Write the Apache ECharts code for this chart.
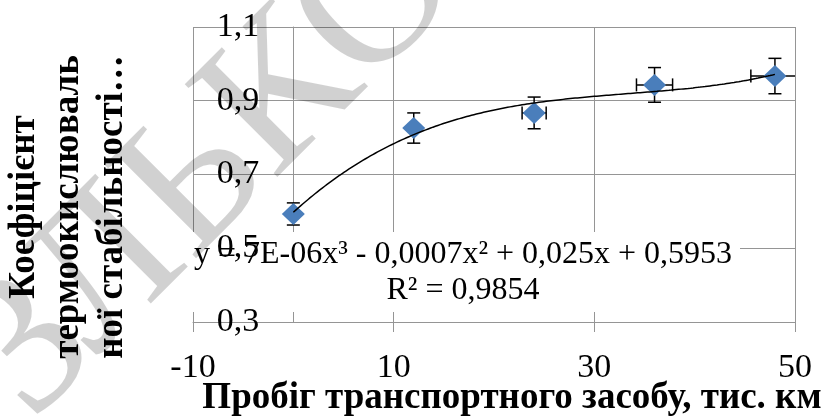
<!DOCTYPE html>
<html>
<head>
<meta charset="utf-8">
<script src="https://cdn.jsdelivr.net/npm/echarts@6/dist/echarts.min.js"></script>
<style>
  html, body { margin: 0; padding: 0; background: #ffffff; }
  #chart { width: 827px; height: 417px; }
</style>
</head>
<body>
<div id="chart"></div>
<script>
// Mileage of the vehicle (thousand km) and the thermo-oxidative stability coefficient
const mileage = [0, 12, 24, 36, 48];
const stability = [0.593, 0.826, 0.867, 0.943, 0.967];
// Error bar half-widths for each measurement
const stabilityErr = [0.030, 0.041, 0.043, 0.047, 0.048];
const mileageErr = [0, 0.3, 1.2, 1.8, 2.4];
// Axis ticks
const xTicks = [-10, 10, 30, 50];
const yTicks = [0.3, 0.5, 0.7, 0.9, 1.1];

const equationText = 'y = 7E-06x³ - 0,0007x² + 0,025x + 0,5953\nR² = 0,9854';
const xTitle = 'Пробіг транспортного засобу, тис. км';
const yTitle = 'Коефіцієнт\nтермоокислюваль\nної стабільності…';

const SERIF = '"Liberation Serif", "Times New Roman", serif';
const GRID_GRAY = '#959595';

const GRID = { left: 193, right: 32, top: 27, bottom: 95 };
const CHART_W = 827;

// Least-squares cubic trendline fitted to the measurements
function fitPolynomial(xs, ys, degree) {
  const n = degree + 1;
  const A = [];
  for (let r = 0; r < n; r++) {
    const row = [];
    for (let c = 0; c < n; c++) {
      let s = 0;
      for (let i = 0; i < xs.length; i++) s += Math.pow(xs[i], r + c);
      row.push(s);
    }
    let b = 0;
    for (let i = 0; i < xs.length; i++) b += ys[i] * Math.pow(xs[i], r);
    row.push(b);
    A.push(row);
  }
  for (let col = 0; col < n; col++) {
    let piv = col;
    for (let r = col + 1; r < n; r++) if (Math.abs(A[r][col]) > Math.abs(A[piv][col])) piv = r;
    [A[col], A[piv]] = [A[piv], A[col]];
    for (let r = 0; r < n; r++) {
      if (r === col) continue;
      const f = A[r][col] / A[col][col];
      for (let c = col; c <= n; c++) A[r][c] -= f * A[col][c];
    }
  }
  return A.map((row, i) => row[n] / row[i]);
}
const coef = fitPolynomial(mileage, stability, 3);
const poly = x => coef.reduce((s, c, i) => s + c * Math.pow(x, i), 0);
const trend = [];
const xFirst = mileage[0], xLast = mileage[mileage.length - 1];
for (let k = 0; k <= 200; k++) {
  const x = xFirst + (xLast - xFirst) * k / 200;
  trend.push([x, poly(x)]);
}

const points = mileage.map((x, i) => [x, stability[i]]);
const errData = mileage.map((x, i) => [x, stability[i], mileageErr[i], stabilityErr[i]]);

// The value labels sit beside the vertical axis that crosses at x = 0
const xMin = xTicks[0], xMax = xTicks[xTicks.length - 1];
const plotW = CHART_W - GRID.left - GRID.right;
const zeroOffset = -(0 - xMin) / (xMax - xMin) * plotW;

const chart = echarts.init(document.getElementById('chart'), null, { renderer: 'canvas' });

const fmtComma = v => String(Math.round(v * 10) / 10).replace('.', ',');

chart.setOption({
  animation: false,
  backgroundColor: '#ffffff',
  grid: Object.assign({ containLabel: false, outerBoundsMode: 'none' }, GRID),
  xAxis: {
    type: 'value',
    min: xMin, max: xMax, interval: xTicks[1] - xTicks[0],
    axisLine: { show: true, onZero: false, lineStyle: { color: GRID_GRAY, width: 1 } },
    axisTick: { show: true, inside: false, length: 10, lineStyle: { color: GRID_GRAY, width: 1 } },
    splitLine: { show: true, lineStyle: { color: GRID_GRAY, width: 1 } },
    axisLabel: { show: true, margin: 29, color: '#000', fontFamily: SERIF, fontSize: 34, formatter: v => String(v) },
    z: 0
  },
  yAxis: [
    {
      // vertical axis line crossing at x = 0, together with the grid
      type: 'value',
      min: yTicks[0], max: yTicks[yTicks.length - 1], interval: 0.2,
      axisLine: { show: true, onZero: true, onZeroAxisIndex: 0, lineStyle: { color: GRID_GRAY, width: 1 } },
      axisTick: { show: false },
      splitLine: { show: true, lineStyle: { color: GRID_GRAY, width: 1 } },
      axisLabel: { show: false },
      z: 0
    },
    {
      // value labels beside the x = 0 axis, drawn above the equation box
      type: 'value', position: 'left', offset: zeroOffset,
      min: yTicks[0], max: yTicks[yTicks.length - 1], interval: 0.2,
      axisLine: { show: false, onZero: false },
      axisTick: { show: false },
      splitLine: { show: false },
      axisLabel: { show: true, margin: 34, color: '#000', fontFamily: SERIF, fontSize: 34, formatter: fmtComma },
      z: 2
    }
  ],
  series: [
    {
      type: 'custom',
      clip: true,
      z: 2,
      data: errData,
      renderItem: function (params, api) {
        const x = api.value(0), y = api.value(1), ex = api.value(2), ey = api.value(3);
        const cap = 6.5;
        const st = { stroke: '#000', lineWidth: 1.5 };
        const kids = [];
        if (ey > 0) {
          const t = api.coord([x, y + ey]), b = api.coord([x, y - ey]);
          kids.push({ type: 'line', shape: { x1: t[0], y1: t[1], x2: b[0], y2: b[1] }, style: st });
          kids.push({ type: 'line', shape: { x1: t[0] - cap, y1: t[1], x2: t[0] + cap, y2: t[1] }, style: st });
          kids.push({ type: 'line', shape: { x1: b[0] - cap, y1: b[1], x2: b[0] + cap, y2: b[1] }, style: st });
        }
        if (ex > 0) {
          const l = api.coord([x - ex, y]), r = api.coord([x + ex, y]);
          kids.push({ type: 'line', shape: { x1: l[0], y1: l[1], x2: r[0], y2: r[1] }, style: st });
          kids.push({ type: 'line', shape: { x1: l[0], y1: l[1] - cap, x2: l[0], y2: l[1] + cap }, style: st });
          kids.push({ type: 'line', shape: { x1: r[0], y1: r[1] - cap, x2: r[0], y2: r[1] + cap }, style: st });
        }
        return { type: 'group', children: kids };
      }
    },
    {
      type: 'scatter',
      z: 3,
      data: points,
      symbol: 'diamond',
      symbolSize: [23, 22],
      itemStyle: { color: '#4a7ebb', opacity: 1 }
    },
    {
      type: 'line',
      z: 4,
      data: trend,
      showSymbol: false,
      symbol: 'none',
      smooth: false,
      lineStyle: { color: '#000', width: 1.5 }
    }
  ],
  graphic: [
    {
      type: 'rect', z: 1, silent: true,
      shape: { x: 189, y: 232, width: 551, height: 80 },
      style: { fill: '#ffffff' }
    },
    {
      type: 'text', z: 6, silent: true,
      x: 463, y: 273,
      style: { text: equationText, font: '32px ' + SERIF, fill: '#000', align: 'center', verticalAlign: 'middle', lineHeight: 36 }
    },
    {
      type: 'text', z: 6, silent: true,
      x: 512, y: 398,
      style: { text: xTitle, font: 'bold 37px ' + SERIF, fill: '#000', align: 'center', verticalAlign: 'middle' }
    },
    {
      type: 'text', z: 6, silent: true,
      x: 68, y: 207, rotation: Math.PI / 2,
      style: { text: yTitle, font: 'bold 37px ' + SERIF, fill: '#000', align: 'center', verticalAlign: 'middle', lineHeight: 44 }
    },
    {
      type: 'text', z: 10, silent: true,
      x: 429, y: -49, rotation: Math.PI / 4,
      style: { text: 'ЗЛЬКО', font: '200px ' + SERIF, fill: 'rgba(0,0,0,0.18)', align: 'right', verticalAlign: 'middle' }
    }
  ]
});
</script>
</body>
</html>
